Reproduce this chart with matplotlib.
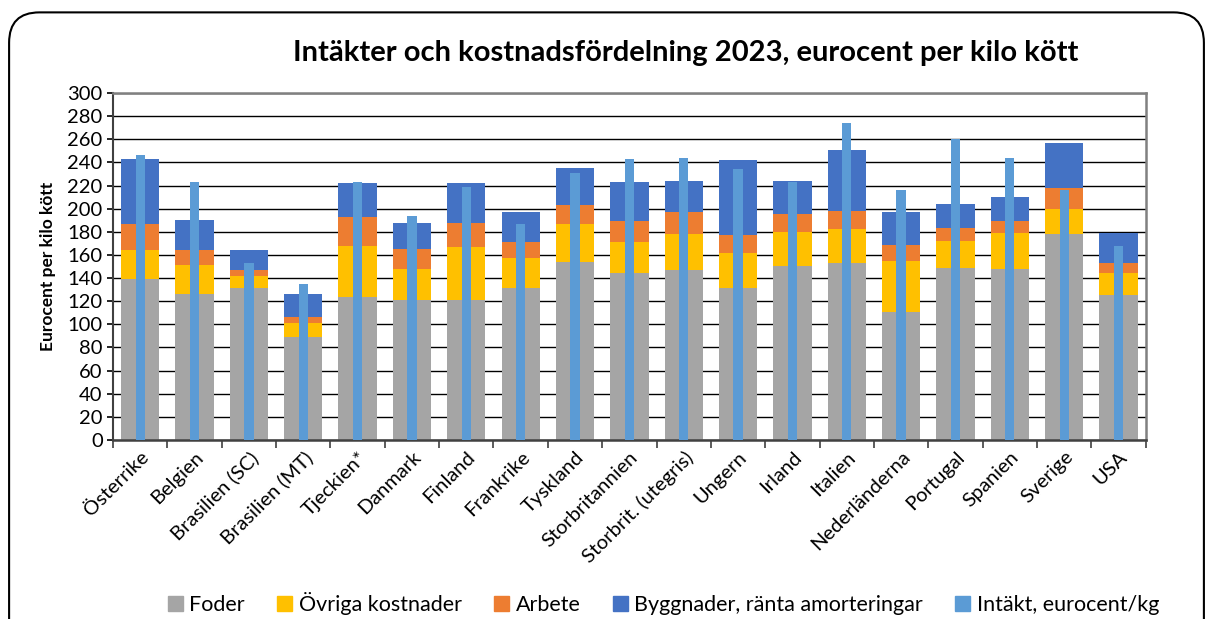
import numpy as np
import matplotlib
matplotlib.use("Agg")
import matplotlib.pyplot as plt
from matplotlib.patches import FancyBboxPatch, Patch

plt.rcParams['font.family'] = ['Lato', 'DejaVu Sans']

countries = ["Österrike", "Belgien", "Brasilien (SC)", "Brasilien (MT)", "Tjeckien*",
             "Danmark", "Finland", "Frankrike", "Tyskland", "Storbritannien",
             "Storbrit. (utegris)", "Ungern", "Irland", "Italien", "Nederländerna",
             "Portugal", "Spanien", "Sverige", "USA"]

# cumulative tops
foder_top = [139, 126, 131, 89, 124, 121, 121, 131, 154, 144, 147, 131, 150, 153, 111, 149, 148, 178, 125]
ovriga_top = [164, 151, 142, 101, 168, 148, 167, 157, 187, 171, 178, 162, 180, 182, 155, 172, 179, 200, 144]
arbete_top = [187, 164, 147, 106, 193, 165, 188, 171, 203, 189, 197, 177, 195, 198, 169, 183, 189, 218, 153]
bygg_top = [243, 190, 164, 126, 222, 188, 222, 197, 235, 223, 224, 242, 224, 251, 197, 204, 210, 257, 179]
intakt = [246, 223, 153, 135, 223, 194, 219, 187, 231, 243, 244, 234, 223, 274, 216, 260, 244, 216, 168]

foder = np.array(foder_top)
ovriga = np.array(ovriga_top) - np.array(foder_top)
arbete = np.array(arbete_top) - np.array(ovriga_top)
bygg = np.array(bygg_top) - np.array(arbete_top)

c_foder = "#A5A5A5"
c_ovriga = "#FFC000"
c_arbete = "#ED7D31"
c_bygg = "#4472C4"
c_intakt = "#5B9BD5"

fig = plt.figure(figsize=(12.13, 6.19), dpi=100)
ax = fig.add_axes([0.0932, 0.2892, 0.8513, 0.5606])

x = np.arange(len(countries))
w = 0.705
ax.bar(x, foder, w, color=c_foder, zorder=2)
ax.bar(x, ovriga, w, bottom=foder, color=c_ovriga, zorder=2)
ax.bar(x, arbete, w, bottom=foder + ovriga, color=c_arbete, zorder=2)
ax.bar(x, bygg, w, bottom=foder + ovriga + arbete, color=c_bygg, zorder=2)
ax.bar(x, intakt, 0.17, color=c_intakt, zorder=3)

ax.set_xlim(-0.5, len(countries) - 0.5)
ax.set_ylim(0, 300)
ax.set_yticks(np.arange(0, 301, 20))
ax.yaxis.grid(True, color="black", linewidth=1.0, zorder=0)
ax.set_axisbelow(True)
ax.tick_params(axis='y', labelsize=14.5, length=4, width=1.2, direction='out')

ax.set_xticks(x)
ax.set_xticklabels(countries, rotation=45, ha='right', rotation_mode='anchor', fontsize=14.5)
ax.set_xticks(np.arange(-0.5, len(countries), 1), minor=True)
ax.tick_params(axis='x', which='major', length=0, pad=6)
ax.tick_params(axis='x', which='minor', length=6, width=1.2, color="#404040")

for s in ['top', 'right']:
    ax.spines[s].set_color("#808080")
    ax.spines[s].set_linewidth(1.8)
ax.spines['left'].set_color("#404040")
ax.spines['left'].set_linewidth(1.5)
ax.spines['bottom'].set_color("#404040")
ax.spines['bottom'].set_linewidth(1.8)

ax.set_ylabel("Eurocent per kilo kött", fontsize=12.5, fontweight='bold', labelpad=8)

fig.text(0.565, 0.915, "Intäkter och kostnadsfördelning 2023, eurocent per kilo kött",
         ha='center', va='center', fontsize=21, fontweight='bold')

handles = [Patch(color=c_foder), Patch(color=c_ovriga), Patch(color=c_arbete),
           Patch(color=c_bygg), Patch(color=c_intakt)]
labels = ["Foder", "Övriga kostnader", "Arbete", "Byggnader, ränta amorteringar", "Intäkt, eurocent/kg"]
fig.legend(handles, labels, loc='center', bbox_to_anchor=(0.547, 0.025), ncol=5, frameon=False,
           fontsize=15.5, handlelength=0.7, handleheight=0.7, handletextpad=0.3, columnspacing=1.5)

frame = FancyBboxPatch((0.0075, -0.05), 0.985, 1.03, boxstyle="round,pad=0,rounding_size=0.025",
                       transform=fig.transFigure, fill=False, edgecolor="black", linewidth=1.5,
                       mutation_aspect=1.96)
fig.patches.append(frame)

fig.savefig("out.png", dpi=100)
